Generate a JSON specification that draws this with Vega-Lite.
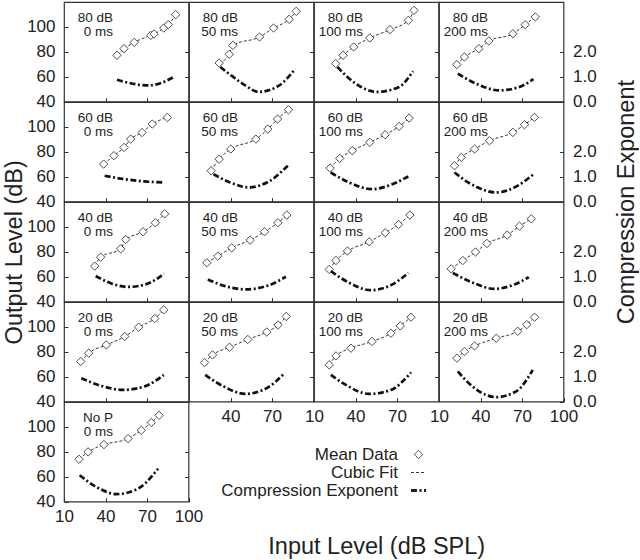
{
"$schema":"https://vega.github.io/schema/vega-lite/v6.json",
"padding":{"left":2,"top":1,"right":0,"bottom":0},
"datasets":{"labels":[
{"p":"A1","t":"80 dB\n0 ms"},{"p":"A2","t":"80 dB\n50 ms"},{"p":"A3","t":"80 dB\n100 ms"},{"p":"A4","t":"80 dB\n200 ms"},
{"p":"B1","t":"60 dB\n0 ms"},{"p":"B2","t":"60 dB\n50 ms"},{"p":"B3","t":"60 dB\n100 ms"},{"p":"B4","t":"60 dB\n200 ms"},
{"p":"C1","t":"40 dB\n0 ms"},{"p":"C2","t":"40 dB\n50 ms"},{"p":"C3","t":"40 dB\n100 ms"},{"p":"C4","t":"40 dB\n200 ms"},
{"p":"D1","t":"20 dB\n0 ms"},{"p":"D2","t":"20 dB\n50 ms"},{"p":"D3","t":"20 dB\n100 ms"},{"p":"D4","t":"20 dB\n200 ms"},
{"p":"E1","t":"No P\n0 ms"}
]},
"data":{"values":[
{"p":"A1","k":"d","x":48.3,"y":77.2},{"p":"A1","k":"d","x":53.4,"y":82.5},{"p":"A1","k":"d","x":60.8,"y":87.6},{"p":"A1","k":"d","x":72.7,"y":93.2},{"p":"A1","k":"d","x":75.1,"y":94.3},{"p":"A1","k":"d","x":82.1,"y":99.1},{"p":"A1","k":"d","x":85.4,"y":101.8},{"p":"A1","k":"d","x":90.7,"y":109.8},
{"p":"A1","k":"e","x":48.3,"y":0.88},{"p":"A1","k":"e","x":56.3,"y":0.76},{"p":"A1","k":"e","x":70.7,"y":0.65},{"p":"A1","k":"e","x":80.3,"y":0.75},{"p":"A1","k":"e","x":90.0,"y":1.01},
{"p":"A2","k":"d","x":31.8,"y":71.0},{"p":"A2","k":"d","x":39.1,"y":78.0},{"p":"A2","k":"d","x":41.7,"y":85.2},{"p":"A2","k":"d","x":61.0,"y":91.9},{"p":"A2","k":"d","x":71.1,"y":99.1},{"p":"A2","k":"d","x":82.4,"y":106.1},{"p":"A2","k":"d","x":87.5,"y":112.5},
{"p":"A2","k":"e","x":32.6,"y":1.39},{"p":"A2","k":"e","x":41.0,"y":1.03},{"p":"A2","k":"e","x":50.6,"y":0.65},{"p":"A2","k":"e","x":60.3,"y":0.39},{"p":"A2","k":"e","x":74.7,"y":0.63},{"p":"A2","k":"e","x":81.9,"y":0.99},{"p":"A2","k":"e","x":86.8,"y":1.32},
{"p":"A3","k":"d","x":25.7,"y":70.5},{"p":"A3","k":"d","x":31.0,"y":77.2},{"p":"A3","k":"d","x":38.7,"y":83.9},{"p":"A3","k":"d","x":50.3,"y":91.1},{"p":"A3","k":"d","x":64.9,"y":97.8},{"p":"A3","k":"d","x":78.2,"y":105.3},{"p":"A3","k":"d","x":82.3,"y":113.3},
{"p":"A3","k":"e","x":26.9,"y":1.39},{"p":"A3","k":"e","x":40.2,"y":0.72},{"p":"A3","k":"e","x":55.8,"y":0.39},{"p":"A3","k":"e","x":71.5,"y":0.59},{"p":"A3","k":"e","x":81.6,"y":1.22},
{"p":"A4","k":"d","x":22.9,"y":69.7},{"p":"A4","k":"d","x":28.4,"y":75.8},{"p":"A4","k":"d","x":38.8,"y":82.5},{"p":"A4","k":"d","x":46.0,"y":88.7},{"p":"A4","k":"d","x":63.4,"y":94.5},{"p":"A4","k":"d","x":72.3,"y":101.8},{"p":"A4","k":"d","x":79.6,"y":108.0},
{"p":"A4","k":"e","x":23.6,"y":1.12},{"p":"A4","k":"e","x":36.9,"y":0.72},{"p":"A4","k":"e","x":53.7,"y":0.45},{"p":"A4","k":"e","x":68.2,"y":0.59},{"p":"A4","k":"e","x":78.3,"y":0.90},
{"p":"B1","k":"d","x":38.7,"y":70.1},{"p":"B1","k":"d","x":46.1,"y":76.9},{"p":"B1","k":"d","x":53.4,"y":83.5},{"p":"B1","k":"d","x":58.2,"y":90.2},{"p":"B1","k":"d","x":66.4,"y":95.5},{"p":"B1","k":"d","x":73.8,"y":102.3},{"p":"B1","k":"d","x":84.7,"y":107.6},
{"p":"B1","k":"e","x":39.4,"y":1.04},{"p":"B1","k":"e","x":53.9,"y":0.90},{"p":"B1","k":"e","x":68.3,"y":0.81},{"p":"B1","k":"e","x":81.6,"y":0.77},
{"p":"B2","k":"d","x":26.0,"y":64.8},{"p":"B2","k":"d","x":31.8,"y":74.1},{"p":"B2","k":"d","x":40.2,"y":82.2},{"p":"B2","k":"d","x":58.3,"y":90.2},{"p":"B2","k":"d","x":67.0,"y":98.2},{"p":"B2","k":"d","x":74.0,"y":106.3},{"p":"B2","k":"d","x":81.9,"y":113.8},
{"p":"B2","k":"e","x":27.7,"y":1.10},{"p":"B2","k":"e","x":39.8,"y":0.77},{"p":"B2","k":"e","x":53.0,"y":0.57},{"p":"B2","k":"e","x":68.7,"y":0.84},{"p":"B2","k":"e","x":81.4,"y":1.44},
{"p":"B3","k":"d","x":21.6,"y":66.9},{"p":"B3","k":"d","x":28.6,"y":74.7},{"p":"B3","k":"d","x":37.7,"y":80.9},{"p":"B3","k":"d","x":50.3,"y":87.6},{"p":"B3","k":"d","x":61.4,"y":93.7},{"p":"B3","k":"d","x":71.5,"y":100.4},{"p":"B3","k":"d","x":78.8,"y":107.1},
{"p":"B3","k":"e","x":22.1,"y":1.17},{"p":"B3","k":"e","x":35.3,"y":0.77},{"p":"B3","k":"e","x":52.2,"y":0.50},{"p":"B3","k":"e","x":66.7,"y":0.70},{"p":"B3","k":"e","x":78.2,"y":1.01},
{"p":"B4","k":"d","x":21.2,"y":68.8},{"p":"B4","k":"d","x":26.1,"y":75.5},{"p":"B4","k":"d","x":35.7,"y":82.2},{"p":"B4","k":"d","x":46.5,"y":88.9},{"p":"B4","k":"d","x":63.4,"y":95.6},{"p":"B4","k":"d","x":71.8,"y":101.8},{"p":"B4","k":"d","x":79.0,"y":107.6},
{"p":"B4","k":"e","x":21.2,"y":1.17},{"p":"B4","k":"e","x":33.3,"y":0.70},{"p":"B4","k":"e","x":51.4,"y":0.37},{"p":"B4","k":"e","x":67.0,"y":0.64},{"p":"B4","k":"e","x":78.3,"y":1.10},
{"p":"C1","k":"d","x":32.2,"y":68.5},{"p":"C1","k":"d","x":36.5,"y":75.7},{"p":"C1","k":"d","x":51.0,"y":82.4},{"p":"C1","k":"d","x":54.6,"y":89.9},{"p":"C1","k":"d","x":67.1,"y":96.1},{"p":"C1","k":"d","x":76.0,"y":103.3},{"p":"C1","k":"d","x":82.8,"y":110.5},
{"p":"C1","k":"e","x":32.9,"y":1.03},{"p":"C1","k":"e","x":44.2,"y":0.73},{"p":"C1","k":"e","x":56.3,"y":0.59},{"p":"C1","k":"e","x":69.5,"y":0.70},{"p":"C1","k":"e","x":82.3,"y":1.12},
{"p":"C2","k":"d","x":22.9,"y":71.2},{"p":"C2","k":"d","x":30.8,"y":76.5},{"p":"C2","k":"d","x":40.9,"y":83.2},{"p":"C2","k":"d","x":54.2,"y":89.4},{"p":"C2","k":"d","x":64.6,"y":96.1},{"p":"C2","k":"d","x":74.2,"y":103.3},{"p":"C2","k":"d","x":80.7,"y":109.5},
{"p":"C2","k":"e","x":23.6,"y":0.89},{"p":"C2","k":"e","x":36.2,"y":0.62},{"p":"C2","k":"e","x":50.6,"y":0.49},{"p":"C2","k":"e","x":67.5,"y":0.65},{"p":"C2","k":"e","x":80.0,"y":1.00},
{"p":"C3","k":"d","x":21.0,"y":65.8},{"p":"C3","k":"d","x":25.9,"y":73.0},{"p":"C3","k":"d","x":34.2,"y":80.6},{"p":"C3","k":"d","x":49.9,"y":88.0},{"p":"C3","k":"d","x":61.5,"y":95.3},{"p":"C3","k":"d","x":71.1,"y":101.9},{"p":"C3","k":"d","x":79.3,"y":109.5},
{"p":"C3","k":"e","x":22.2,"y":1.22},{"p":"C3","k":"e","x":35.3,"y":0.76},{"p":"C3","k":"e","x":51.0,"y":0.46},{"p":"C3","k":"e","x":66.7,"y":0.69},{"p":"C3","k":"e","x":78.2,"y":1.15},
{"p":"C4","k":"d","x":18.8,"y":66.3},{"p":"C4","k":"d","x":27.2,"y":73.0},{"p":"C4","k":"d","x":36.4,"y":79.8},{"p":"C4","k":"d","x":44.6,"y":86.7},{"p":"C4","k":"d","x":59.3,"y":93.4},{"p":"C4","k":"d","x":68.2,"y":100.6},{"p":"C4","k":"d","x":76.7,"y":106.5},
{"p":"C4","k":"e","x":20.0,"y":1.15},{"p":"C4","k":"e","x":34.4,"y":0.76},{"p":"C4","k":"e","x":50.1,"y":0.51},{"p":"C4","k":"e","x":64.6,"y":0.69},{"p":"C4","k":"e","x":74.9,"y":0.98},
{"p":"D1","k":"d","x":22.1,"y":72.2},{"p":"D1","k":"d","x":27.9,"y":78.9},{"p":"D1","k":"d","x":40.6,"y":85.5},{"p":"D1","k":"d","x":53.9,"y":92.3},{"p":"D1","k":"d","x":64.0,"y":99.8},{"p":"D1","k":"d","x":75.6,"y":106.7},{"p":"D1","k":"d","x":82.1,"y":113.7},
{"p":"D1","k":"e","x":22.5,"y":0.94},{"p":"D1","k":"e","x":37.0,"y":0.63},{"p":"D1","k":"e","x":52.7,"y":0.47},{"p":"D1","k":"e","x":68.3,"y":0.61},{"p":"D1","k":"e","x":82.1,"y":1.07},
{"p":"D2","k":"d","x":21.2,"y":71.4},{"p":"D2","k":"d","x":27.0,"y":77.5},{"p":"D2","k":"d","x":39.3,"y":83.7},{"p":"D2","k":"d","x":52.5,"y":89.9},{"p":"D2","k":"d","x":66.2,"y":95.9},{"p":"D2","k":"d","x":74.4,"y":101.5},{"p":"D2","k":"d","x":80.3,"y":108.4},
{"p":"D2","k":"e","x":21.7,"y":1.07},{"p":"D2","k":"e","x":35.0,"y":0.61},{"p":"D2","k":"e","x":50.6,"y":0.31},{"p":"D2","k":"e","x":66.2,"y":0.54},{"p":"D2","k":"e","x":79.0,"y":1.14},
{"p":"D3","k":"d","x":21.0,"y":69.5},{"p":"D3","k":"d","x":25.9,"y":76.7},{"p":"D3","k":"d","x":36.7,"y":82.9},{"p":"D3","k":"d","x":51.9,"y":88.3},{"p":"D3","k":"d","x":65.6,"y":94.9},{"p":"D3","k":"d","x":72.4,"y":100.8},{"p":"D3","k":"d","x":80.1,"y":107.8},
{"p":"D3","k":"e","x":22.2,"y":1.07},{"p":"D3","k":"e","x":33.0,"y":0.67},{"p":"D3","k":"e","x":49.8,"y":0.31},{"p":"D3","k":"e","x":65.6,"y":0.47},{"p":"D3","k":"e","x":80.1,"y":1.17},
{"p":"D4","k":"d","x":22.9,"y":74.9},{"p":"D4","k":"d","x":28.4,"y":80.2},{"p":"D4","k":"d","x":35.7,"y":84.7},{"p":"D4","k":"d","x":51.4,"y":90.9},{"p":"D4","k":"d","x":66.9,"y":96.5},{"p":"D4","k":"d","x":73.4,"y":101.8},{"p":"D4","k":"d","x":79.1,"y":107.8},
{"p":"D4","k":"e","x":23.6,"y":1.21},{"p":"D4","k":"e","x":35.7,"y":0.54},{"p":"D4","k":"e","x":51.4,"y":0.18},{"p":"D4","k":"e","x":65.8,"y":0.41},{"p":"D4","k":"e","x":77.8,"y":1.27},
{"p":"E1","k":"d","x":20.8,"y":74.0},{"p":"E1","k":"d","x":27.4,"y":79.9},{"p":"E1","k":"d","x":38.9,"y":85.8},{"p":"E1","k":"d","x":56.3,"y":90.6},{"p":"E1","k":"d","x":65.9,"y":97.3},{"p":"E1","k":"d","x":73.1,"y":103.5},{"p":"E1","k":"d","x":78.7,"y":109.3},
{"p":"E1","k":"e","x":21.3,"y":1.06},{"p":"E1","k":"e","x":34.6,"y":0.55},{"p":"E1","k":"e","x":47.8,"y":0.30},{"p":"E1","k":"e","x":63.5,"y":0.52},{"p":"E1","k":"e","x":78.0,"y":1.32}
]},
"columns":4,
"spacing":0,
"bounds":"flush",
"concat":[
{"width":124.5,"height":99.6,"layer":[
{"transform":[{"filter":"datum.p=='A1' && datum.k=='d'"}],"mark":{"type":"line","interpolate":"monotone","strokeDash":[3,2],"strokeWidth":0.9,"color":"#222"},"encoding":{"x":{"field":"x","type":"quantitative","scale":{"domain":[10,100],"nice":false},"axis":{"values":[40,70],"labels":false,"title":null}},"y":{"field":"y","type":"quantitative","scale":{"domain":[40,120],"nice":false},"axis":{"values":[40,60,80,100],"title":null}}}},
{"transform":[{"filter":"datum.p=='A1' && datum.k=='d'"}],"mark":{"type":"point","shape":"diamond","size":70,"filled":true,"fill":"white","stroke":"#222","strokeWidth":0.8,"opacity":1},"encoding":{"x":{"field":"x","type":"quantitative"},"y":{"field":"y","type":"quantitative","scale":{"domain":[40,120],"nice":false},"axis":null}}},
{"transform":[{"filter":"datum.p=='A1' && datum.k=='e'"}],"mark":{"type":"line","interpolate":"monotone","strokeDash":[6,2.5,2,2.5],"strokeWidth":2.7,"color":"#111"},"encoding":{"x":{"field":"x","type":"quantitative"},"y":{"field":"y","type":"quantitative","scale":{"domain":[0,4],"nice":false},"axis":{"orient":"right","values":[1,2],"labels":false,"title":null}}}},
{"data":{"name":"labels"},"transform":[{"filter":"datum.p=='A1'"}],"mark":{"type":"text","align":"right","baseline":"top","lineBreak":"\n","fontSize":13.5,"lineHeight":14.5,"color":"#222"},"encoding":{"x":{"datum":45.4,"type":"quantitative"},"y":{"datum":113,"type":"quantitative","scale":{"domain":[40,120],"nice":false},"axis":null},"text":{"field":"t"}}}
],"resolve":{"scale":{"y":"independent"}}},
{"width":124.5,"height":99.6,"layer":[
{"transform":[{"filter":"datum.p=='A2' && datum.k=='d'"}],"mark":{"type":"line","interpolate":"monotone","strokeDash":[3,2],"strokeWidth":0.9,"color":"#222"},"encoding":{"x":{"field":"x","type":"quantitative","scale":{"domain":[10,100],"nice":false},"axis":{"values":[40,70],"labels":false,"title":null}},"y":{"field":"y","type":"quantitative","scale":{"domain":[40,120],"nice":false},"axis":null}}},
{"transform":[{"filter":"datum.p=='A2' && datum.k=='d'"}],"mark":{"type":"point","shape":"diamond","size":70,"filled":true,"fill":"white","stroke":"#222","strokeWidth":0.8,"opacity":1},"encoding":{"x":{"field":"x","type":"quantitative"},"y":{"field":"y","type":"quantitative","scale":{"domain":[40,120],"nice":false},"axis":null}}},
{"transform":[{"filter":"datum.p=='A2' && datum.k=='e'"}],"mark":{"type":"line","interpolate":"monotone","strokeDash":[6,2.5,2,2.5],"strokeWidth":2.7,"color":"#111"},"encoding":{"x":{"field":"x","type":"quantitative"},"y":{"field":"y","type":"quantitative","scale":{"domain":[0,4],"nice":false},"axis":{"orient":"right","values":[1,2],"labels":false,"title":null}}}},
{"data":{"name":"labels"},"transform":[{"filter":"datum.p=='A2'"}],"mark":{"type":"text","align":"right","baseline":"top","lineBreak":"\n","fontSize":13.5,"lineHeight":14.5,"color":"#222"},"encoding":{"x":{"datum":45.4,"type":"quantitative"},"y":{"datum":113,"type":"quantitative","scale":{"domain":[40,120],"nice":false},"axis":null},"text":{"field":"t"}}}
],"resolve":{"scale":{"y":"independent"}}},
{"width":124.5,"height":99.6,"layer":[
{"transform":[{"filter":"datum.p=='A3' && datum.k=='d'"}],"mark":{"type":"line","interpolate":"monotone","strokeDash":[3,2],"strokeWidth":0.9,"color":"#222"},"encoding":{"x":{"field":"x","type":"quantitative","scale":{"domain":[10,100],"nice":false},"axis":{"values":[40,70],"labels":false,"title":null}},"y":{"field":"y","type":"quantitative","scale":{"domain":[40,120],"nice":false},"axis":null}}},
{"transform":[{"filter":"datum.p=='A3' && datum.k=='d'"}],"mark":{"type":"point","shape":"diamond","size":70,"filled":true,"fill":"white","stroke":"#222","strokeWidth":0.8,"opacity":1},"encoding":{"x":{"field":"x","type":"quantitative"},"y":{"field":"y","type":"quantitative","scale":{"domain":[40,120],"nice":false},"axis":null}}},
{"transform":[{"filter":"datum.p=='A3' && datum.k=='e'"}],"mark":{"type":"line","interpolate":"monotone","strokeDash":[6,2.5,2,2.5],"strokeWidth":2.7,"color":"#111"},"encoding":{"x":{"field":"x","type":"quantitative"},"y":{"field":"y","type":"quantitative","scale":{"domain":[0,4],"nice":false},"axis":{"orient":"right","values":[1,2],"labels":false,"title":null}}}},
{"data":{"name":"labels"},"transform":[{"filter":"datum.p=='A3'"}],"mark":{"type":"text","align":"right","baseline":"top","lineBreak":"\n","fontSize":13.5,"lineHeight":14.5,"color":"#222"},"encoding":{"x":{"datum":45.4,"type":"quantitative"},"y":{"datum":113,"type":"quantitative","scale":{"domain":[40,120],"nice":false},"axis":null},"text":{"field":"t"}}}
],"resolve":{"scale":{"y":"independent"}}},
{"width":124.5,"height":99.6,"layer":[
{"transform":[{"filter":"datum.p=='A4' && datum.k=='d'"}],"mark":{"type":"line","interpolate":"monotone","strokeDash":[3,2],"strokeWidth":0.9,"color":"#222"},"encoding":{"x":{"field":"x","type":"quantitative","scale":{"domain":[10,100],"nice":false},"axis":{"values":[40,70],"labels":false,"title":null}},"y":{"field":"y","type":"quantitative","scale":{"domain":[40,120],"nice":false},"axis":null}}},
{"transform":[{"filter":"datum.p=='A4' && datum.k=='d'"}],"mark":{"type":"point","shape":"diamond","size":70,"filled":true,"fill":"white","stroke":"#222","strokeWidth":0.8,"opacity":1},"encoding":{"x":{"field":"x","type":"quantitative"},"y":{"field":"y","type":"quantitative","scale":{"domain":[40,120],"nice":false},"axis":null}}},
{"transform":[{"filter":"datum.p=='A4' && datum.k=='e'"}],"mark":{"type":"line","interpolate":"monotone","strokeDash":[6,2.5,2,2.5],"strokeWidth":2.7,"color":"#111"},"encoding":{"x":{"field":"x","type":"quantitative"},"y":{"field":"y","type":"quantitative","scale":{"domain":[0,4],"nice":false},"axis":{"orient":"right","values":[0,1,2],"format":".1f","title":null}}}},
{"data":{"name":"labels"},"transform":[{"filter":"datum.p=='A4'"}],"mark":{"type":"text","align":"right","baseline":"top","lineBreak":"\n","fontSize":13.5,"lineHeight":14.5,"color":"#222"},"encoding":{"x":{"datum":45.4,"type":"quantitative"},"y":{"datum":113,"type":"quantitative","scale":{"domain":[40,120],"nice":false},"axis":null},"text":{"field":"t"}}}
],"resolve":{"scale":{"y":"independent"}}},
{"width":124.5,"height":99.6,"layer":[
{"transform":[{"filter":"datum.p=='B1' && datum.k=='d'"}],"mark":{"type":"line","interpolate":"monotone","strokeDash":[3,2],"strokeWidth":0.9,"color":"#222"},"encoding":{"x":{"field":"x","type":"quantitative","scale":{"domain":[10,100],"nice":false},"axis":{"values":[40,70],"labels":false,"title":null}},"y":{"field":"y","type":"quantitative","scale":{"domain":[40,120],"nice":false},"axis":{"values":[40,60,80,100],"title":null}}}},
{"transform":[{"filter":"datum.p=='B1' && datum.k=='d'"}],"mark":{"type":"point","shape":"diamond","size":70,"filled":true,"fill":"white","stroke":"#222","strokeWidth":0.8,"opacity":1},"encoding":{"x":{"field":"x","type":"quantitative"},"y":{"field":"y","type":"quantitative","scale":{"domain":[40,120],"nice":false},"axis":null}}},
{"transform":[{"filter":"datum.p=='B1' && datum.k=='e'"}],"mark":{"type":"line","interpolate":"monotone","strokeDash":[6,2.5,2,2.5],"strokeWidth":2.7,"color":"#111"},"encoding":{"x":{"field":"x","type":"quantitative"},"y":{"field":"y","type":"quantitative","scale":{"domain":[0,4],"nice":false},"axis":{"orient":"right","values":[1,2],"labels":false,"title":null}}}},
{"data":{"name":"labels"},"transform":[{"filter":"datum.p=='B1'"}],"mark":{"type":"text","align":"right","baseline":"top","lineBreak":"\n","fontSize":13.5,"lineHeight":14.5,"color":"#222"},"encoding":{"x":{"datum":45.4,"type":"quantitative"},"y":{"datum":113,"type":"quantitative","scale":{"domain":[40,120],"nice":false},"axis":null},"text":{"field":"t"}}}
],"resolve":{"scale":{"y":"independent"}}},
{"width":124.5,"height":99.6,"layer":[
{"transform":[{"filter":"datum.p=='B2' && datum.k=='d'"}],"mark":{"type":"line","interpolate":"monotone","strokeDash":[3,2],"strokeWidth":0.9,"color":"#222"},"encoding":{"x":{"field":"x","type":"quantitative","scale":{"domain":[10,100],"nice":false},"axis":{"values":[40,70],"labels":false,"title":null}},"y":{"field":"y","type":"quantitative","scale":{"domain":[40,120],"nice":false},"axis":null}}},
{"transform":[{"filter":"datum.p=='B2' && datum.k=='d'"}],"mark":{"type":"point","shape":"diamond","size":70,"filled":true,"fill":"white","stroke":"#222","strokeWidth":0.8,"opacity":1},"encoding":{"x":{"field":"x","type":"quantitative"},"y":{"field":"y","type":"quantitative","scale":{"domain":[40,120],"nice":false},"axis":null}}},
{"transform":[{"filter":"datum.p=='B2' && datum.k=='e'"}],"mark":{"type":"line","interpolate":"monotone","strokeDash":[6,2.5,2,2.5],"strokeWidth":2.7,"color":"#111"},"encoding":{"x":{"field":"x","type":"quantitative"},"y":{"field":"y","type":"quantitative","scale":{"domain":[0,4],"nice":false},"axis":{"orient":"right","values":[1,2],"labels":false,"title":null}}}},
{"data":{"name":"labels"},"transform":[{"filter":"datum.p=='B2'"}],"mark":{"type":"text","align":"right","baseline":"top","lineBreak":"\n","fontSize":13.5,"lineHeight":14.5,"color":"#222"},"encoding":{"x":{"datum":45.4,"type":"quantitative"},"y":{"datum":113,"type":"quantitative","scale":{"domain":[40,120],"nice":false},"axis":null},"text":{"field":"t"}}}
],"resolve":{"scale":{"y":"independent"}}},
{"width":124.5,"height":99.6,"layer":[
{"transform":[{"filter":"datum.p=='B3' && datum.k=='d'"}],"mark":{"type":"line","interpolate":"monotone","strokeDash":[3,2],"strokeWidth":0.9,"color":"#222"},"encoding":{"x":{"field":"x","type":"quantitative","scale":{"domain":[10,100],"nice":false},"axis":{"values":[40,70],"labels":false,"title":null}},"y":{"field":"y","type":"quantitative","scale":{"domain":[40,120],"nice":false},"axis":null}}},
{"transform":[{"filter":"datum.p=='B3' && datum.k=='d'"}],"mark":{"type":"point","shape":"diamond","size":70,"filled":true,"fill":"white","stroke":"#222","strokeWidth":0.8,"opacity":1},"encoding":{"x":{"field":"x","type":"quantitative"},"y":{"field":"y","type":"quantitative","scale":{"domain":[40,120],"nice":false},"axis":null}}},
{"transform":[{"filter":"datum.p=='B3' && datum.k=='e'"}],"mark":{"type":"line","interpolate":"monotone","strokeDash":[6,2.5,2,2.5],"strokeWidth":2.7,"color":"#111"},"encoding":{"x":{"field":"x","type":"quantitative"},"y":{"field":"y","type":"quantitative","scale":{"domain":[0,4],"nice":false},"axis":{"orient":"right","values":[1,2],"labels":false,"title":null}}}},
{"data":{"name":"labels"},"transform":[{"filter":"datum.p=='B3'"}],"mark":{"type":"text","align":"right","baseline":"top","lineBreak":"\n","fontSize":13.5,"lineHeight":14.5,"color":"#222"},"encoding":{"x":{"datum":45.4,"type":"quantitative"},"y":{"datum":113,"type":"quantitative","scale":{"domain":[40,120],"nice":false},"axis":null},"text":{"field":"t"}}}
],"resolve":{"scale":{"y":"independent"}}},
{"width":124.5,"height":99.6,"layer":[
{"transform":[{"filter":"datum.p=='B4' && datum.k=='d'"}],"mark":{"type":"line","interpolate":"monotone","strokeDash":[3,2],"strokeWidth":0.9,"color":"#222"},"encoding":{"x":{"field":"x","type":"quantitative","scale":{"domain":[10,100],"nice":false},"axis":{"values":[40,70],"labels":false,"title":null}},"y":{"field":"y","type":"quantitative","scale":{"domain":[40,120],"nice":false},"axis":null}}},
{"transform":[{"filter":"datum.p=='B4' && datum.k=='d'"}],"mark":{"type":"point","shape":"diamond","size":70,"filled":true,"fill":"white","stroke":"#222","strokeWidth":0.8,"opacity":1},"encoding":{"x":{"field":"x","type":"quantitative"},"y":{"field":"y","type":"quantitative","scale":{"domain":[40,120],"nice":false},"axis":null}}},
{"transform":[{"filter":"datum.p=='B4' && datum.k=='e'"}],"mark":{"type":"line","interpolate":"monotone","strokeDash":[6,2.5,2,2.5],"strokeWidth":2.7,"color":"#111"},"encoding":{"x":{"field":"x","type":"quantitative"},"y":{"field":"y","type":"quantitative","scale":{"domain":[0,4],"nice":false},"axis":{"orient":"right","values":[0,1,2],"format":".1f","title":"Compression Exponent","titleY":99.6,"titleAngle":270,"titleBaseline":"top","titlePadding":18}}}},
{"data":{"name":"labels"},"transform":[{"filter":"datum.p=='B4'"}],"mark":{"type":"text","align":"right","baseline":"top","lineBreak":"\n","fontSize":13.5,"lineHeight":14.5,"color":"#222"},"encoding":{"x":{"datum":45.4,"type":"quantitative"},"y":{"datum":113,"type":"quantitative","scale":{"domain":[40,120],"nice":false},"axis":null},"text":{"field":"t"}}}
],"resolve":{"scale":{"y":"independent"}}},
{"width":124.5,"height":99.6,"layer":[
{"transform":[{"filter":"datum.p=='C1' && datum.k=='d'"}],"mark":{"type":"line","interpolate":"monotone","strokeDash":[3,2],"strokeWidth":0.9,"color":"#222"},"encoding":{"x":{"field":"x","type":"quantitative","scale":{"domain":[10,100],"nice":false},"axis":{"values":[40,70],"labels":false,"title":null}},"y":{"field":"y","type":"quantitative","scale":{"domain":[40,120],"nice":false},"axis":{"values":[40,60,80,100],"title":"Output Level (dB)","titlePadding":0}}}},
{"transform":[{"filter":"datum.p=='C1' && datum.k=='d'"}],"mark":{"type":"point","shape":"diamond","size":70,"filled":true,"fill":"white","stroke":"#222","strokeWidth":0.8,"opacity":1},"encoding":{"x":{"field":"x","type":"quantitative"},"y":{"field":"y","type":"quantitative","scale":{"domain":[40,120],"nice":false},"axis":null}}},
{"transform":[{"filter":"datum.p=='C1' && datum.k=='e'"}],"mark":{"type":"line","interpolate":"monotone","strokeDash":[6,2.5,2,2.5],"strokeWidth":2.7,"color":"#111"},"encoding":{"x":{"field":"x","type":"quantitative"},"y":{"field":"y","type":"quantitative","scale":{"domain":[0,4],"nice":false},"axis":{"orient":"right","values":[1,2],"labels":false,"title":null}}}},
{"data":{"name":"labels"},"transform":[{"filter":"datum.p=='C1'"}],"mark":{"type":"text","align":"right","baseline":"top","lineBreak":"\n","fontSize":13.5,"lineHeight":14.5,"color":"#222"},"encoding":{"x":{"datum":45.4,"type":"quantitative"},"y":{"datum":113,"type":"quantitative","scale":{"domain":[40,120],"nice":false},"axis":null},"text":{"field":"t"}}}
],"resolve":{"scale":{"y":"independent"}}},
{"width":124.5,"height":99.6,"layer":[
{"transform":[{"filter":"datum.p=='C2' && datum.k=='d'"}],"mark":{"type":"line","interpolate":"monotone","strokeDash":[3,2],"strokeWidth":0.9,"color":"#222"},"encoding":{"x":{"field":"x","type":"quantitative","scale":{"domain":[10,100],"nice":false},"axis":{"values":[40,70],"labels":false,"title":null}},"y":{"field":"y","type":"quantitative","scale":{"domain":[40,120],"nice":false},"axis":null}}},
{"transform":[{"filter":"datum.p=='C2' && datum.k=='d'"}],"mark":{"type":"point","shape":"diamond","size":70,"filled":true,"fill":"white","stroke":"#222","strokeWidth":0.8,"opacity":1},"encoding":{"x":{"field":"x","type":"quantitative"},"y":{"field":"y","type":"quantitative","scale":{"domain":[40,120],"nice":false},"axis":null}}},
{"transform":[{"filter":"datum.p=='C2' && datum.k=='e'"}],"mark":{"type":"line","interpolate":"monotone","strokeDash":[6,2.5,2,2.5],"strokeWidth":2.7,"color":"#111"},"encoding":{"x":{"field":"x","type":"quantitative"},"y":{"field":"y","type":"quantitative","scale":{"domain":[0,4],"nice":false},"axis":{"orient":"right","values":[1,2],"labels":false,"title":null}}}},
{"data":{"name":"labels"},"transform":[{"filter":"datum.p=='C2'"}],"mark":{"type":"text","align":"right","baseline":"top","lineBreak":"\n","fontSize":13.5,"lineHeight":14.5,"color":"#222"},"encoding":{"x":{"datum":45.4,"type":"quantitative"},"y":{"datum":113,"type":"quantitative","scale":{"domain":[40,120],"nice":false},"axis":null},"text":{"field":"t"}}}
],"resolve":{"scale":{"y":"independent"}}},
{"width":124.5,"height":99.6,"layer":[
{"transform":[{"filter":"datum.p=='C3' && datum.k=='d'"}],"mark":{"type":"line","interpolate":"monotone","strokeDash":[3,2],"strokeWidth":0.9,"color":"#222"},"encoding":{"x":{"field":"x","type":"quantitative","scale":{"domain":[10,100],"nice":false},"axis":{"values":[40,70],"labels":false,"title":null}},"y":{"field":"y","type":"quantitative","scale":{"domain":[40,120],"nice":false},"axis":null}}},
{"transform":[{"filter":"datum.p=='C3' && datum.k=='d'"}],"mark":{"type":"point","shape":"diamond","size":70,"filled":true,"fill":"white","stroke":"#222","strokeWidth":0.8,"opacity":1},"encoding":{"x":{"field":"x","type":"quantitative"},"y":{"field":"y","type":"quantitative","scale":{"domain":[40,120],"nice":false},"axis":null}}},
{"transform":[{"filter":"datum.p=='C3' && datum.k=='e'"}],"mark":{"type":"line","interpolate":"monotone","strokeDash":[6,2.5,2,2.5],"strokeWidth":2.7,"color":"#111"},"encoding":{"x":{"field":"x","type":"quantitative"},"y":{"field":"y","type":"quantitative","scale":{"domain":[0,4],"nice":false},"axis":{"orient":"right","values":[1,2],"labels":false,"title":null}}}},
{"data":{"name":"labels"},"transform":[{"filter":"datum.p=='C3'"}],"mark":{"type":"text","align":"right","baseline":"top","lineBreak":"\n","fontSize":13.5,"lineHeight":14.5,"color":"#222"},"encoding":{"x":{"datum":45.4,"type":"quantitative"},"y":{"datum":113,"type":"quantitative","scale":{"domain":[40,120],"nice":false},"axis":null},"text":{"field":"t"}}}
],"resolve":{"scale":{"y":"independent"}}},
{"width":124.5,"height":99.6,"layer":[
{"transform":[{"filter":"datum.p=='C4' && datum.k=='d'"}],"mark":{"type":"line","interpolate":"monotone","strokeDash":[3,2],"strokeWidth":0.9,"color":"#222"},"encoding":{"x":{"field":"x","type":"quantitative","scale":{"domain":[10,100],"nice":false},"axis":{"values":[40,70],"labels":false,"title":null}},"y":{"field":"y","type":"quantitative","scale":{"domain":[40,120],"nice":false},"axis":null}}},
{"transform":[{"filter":"datum.p=='C4' && datum.k=='d'"}],"mark":{"type":"point","shape":"diamond","size":70,"filled":true,"fill":"white","stroke":"#222","strokeWidth":0.8,"opacity":1},"encoding":{"x":{"field":"x","type":"quantitative"},"y":{"field":"y","type":"quantitative","scale":{"domain":[40,120],"nice":false},"axis":null}}},
{"transform":[{"filter":"datum.p=='C4' && datum.k=='e'"}],"mark":{"type":"line","interpolate":"monotone","strokeDash":[6,2.5,2,2.5],"strokeWidth":2.7,"color":"#111"},"encoding":{"x":{"field":"x","type":"quantitative"},"y":{"field":"y","type":"quantitative","scale":{"domain":[0,4],"nice":false},"axis":{"orient":"right","values":[0,1,2],"format":".1f","title":null}}}},
{"data":{"name":"labels"},"transform":[{"filter":"datum.p=='C4'"}],"mark":{"type":"text","align":"right","baseline":"top","lineBreak":"\n","fontSize":13.5,"lineHeight":14.5,"color":"#222"},"encoding":{"x":{"datum":45.4,"type":"quantitative"},"y":{"datum":113,"type":"quantitative","scale":{"domain":[40,120],"nice":false},"axis":null},"text":{"field":"t"}}}
],"resolve":{"scale":{"y":"independent"}}},
{"width":124.5,"height":99.6,"layer":[
{"transform":[{"filter":"datum.p=='D1' && datum.k=='d'"}],"mark":{"type":"line","interpolate":"monotone","strokeDash":[3,2],"strokeWidth":0.9,"color":"#222"},"encoding":{"x":{"field":"x","type":"quantitative","scale":{"domain":[10,100],"nice":false},"axis":{"values":[40,70],"labels":false,"title":null}},"y":{"field":"y","type":"quantitative","scale":{"domain":[40,120],"nice":false},"axis":{"values":[40,60,80,100],"title":null}}}},
{"transform":[{"filter":"datum.p=='D1' && datum.k=='d'"}],"mark":{"type":"point","shape":"diamond","size":70,"filled":true,"fill":"white","stroke":"#222","strokeWidth":0.8,"opacity":1},"encoding":{"x":{"field":"x","type":"quantitative"},"y":{"field":"y","type":"quantitative","scale":{"domain":[40,120],"nice":false},"axis":null}}},
{"transform":[{"filter":"datum.p=='D1' && datum.k=='e'"}],"mark":{"type":"line","interpolate":"monotone","strokeDash":[6,2.5,2,2.5],"strokeWidth":2.7,"color":"#111"},"encoding":{"x":{"field":"x","type":"quantitative"},"y":{"field":"y","type":"quantitative","scale":{"domain":[0,4],"nice":false},"axis":{"orient":"right","values":[1,2],"labels":false,"title":null}}}},
{"data":{"name":"labels"},"transform":[{"filter":"datum.p=='D1'"}],"mark":{"type":"text","align":"right","baseline":"top","lineBreak":"\n","fontSize":13.5,"lineHeight":14.5,"color":"#222"},"encoding":{"x":{"datum":45.4,"type":"quantitative"},"y":{"datum":113,"type":"quantitative","scale":{"domain":[40,120],"nice":false},"axis":null},"text":{"field":"t"}}}
],"resolve":{"scale":{"y":"independent"}}},
{"width":124.5,"height":99.6,"layer":[
{"transform":[{"filter":"datum.p=='D2' && datum.k=='d'"}],"mark":{"type":"line","interpolate":"monotone","strokeDash":[3,2],"strokeWidth":0.9,"color":"#222"},"encoding":{"x":{"field":"x","type":"quantitative","scale":{"domain":[10,100],"nice":false},"axis":{"values":[40,70],"title":null}},"y":{"field":"y","type":"quantitative","scale":{"domain":[40,120],"nice":false},"axis":null}}},
{"transform":[{"filter":"datum.p=='D2' && datum.k=='d'"}],"mark":{"type":"point","shape":"diamond","size":70,"filled":true,"fill":"white","stroke":"#222","strokeWidth":0.8,"opacity":1},"encoding":{"x":{"field":"x","type":"quantitative"},"y":{"field":"y","type":"quantitative","scale":{"domain":[40,120],"nice":false},"axis":null}}},
{"transform":[{"filter":"datum.p=='D2' && datum.k=='e'"}],"mark":{"type":"line","interpolate":"monotone","strokeDash":[6,2.5,2,2.5],"strokeWidth":2.7,"color":"#111"},"encoding":{"x":{"field":"x","type":"quantitative"},"y":{"field":"y","type":"quantitative","scale":{"domain":[0,4],"nice":false},"axis":{"orient":"right","values":[1,2],"labels":false,"title":null}}}},
{"data":{"name":"labels"},"transform":[{"filter":"datum.p=='D2'"}],"mark":{"type":"text","align":"right","baseline":"top","lineBreak":"\n","fontSize":13.5,"lineHeight":14.5,"color":"#222"},"encoding":{"x":{"datum":45.4,"type":"quantitative"},"y":{"datum":113,"type":"quantitative","scale":{"domain":[40,120],"nice":false},"axis":null},"text":{"field":"t"}}}
],"resolve":{"scale":{"y":"independent"}}},
{"width":124.5,"height":99.6,"layer":[
{"transform":[{"filter":"datum.p=='D3' && datum.k=='d'"}],"mark":{"type":"line","interpolate":"monotone","strokeDash":[3,2],"strokeWidth":0.9,"color":"#222"},"encoding":{"x":{"field":"x","type":"quantitative","scale":{"domain":[10,100],"nice":false},"axis":{"values":[10,40,70],"title":"Input Level (dB SPL)","titlePadding":110}},"y":{"field":"y","type":"quantitative","scale":{"domain":[40,120],"nice":false},"axis":null}}},
{"transform":[{"filter":"datum.p=='D3' && datum.k=='d'"}],"mark":{"type":"point","shape":"diamond","size":70,"filled":true,"fill":"white","stroke":"#222","strokeWidth":0.8,"opacity":1},"encoding":{"x":{"field":"x","type":"quantitative"},"y":{"field":"y","type":"quantitative","scale":{"domain":[40,120],"nice":false},"axis":null}}},
{"transform":[{"filter":"datum.p=='D3' && datum.k=='e'"}],"mark":{"type":"line","interpolate":"monotone","strokeDash":[6,2.5,2,2.5],"strokeWidth":2.7,"color":"#111"},"encoding":{"x":{"field":"x","type":"quantitative"},"y":{"field":"y","type":"quantitative","scale":{"domain":[0,4],"nice":false},"axis":{"orient":"right","values":[1,2],"labels":false,"title":null}}}},
{"data":{"name":"labels"},"transform":[{"filter":"datum.p=='D3'"}],"mark":{"type":"text","align":"right","baseline":"top","lineBreak":"\n","fontSize":13.5,"lineHeight":14.5,"color":"#222"},"encoding":{"x":{"datum":45.4,"type":"quantitative"},"y":{"datum":113,"type":"quantitative","scale":{"domain":[40,120],"nice":false},"axis":null},"text":{"field":"t"}}}
],"resolve":{"scale":{"y":"independent"}}},
{"width":124.5,"height":99.6,"layer":[
{"transform":[{"filter":"datum.p=='D4' && datum.k=='d'"}],"mark":{"type":"line","interpolate":"monotone","strokeDash":[3,2],"strokeWidth":0.9,"color":"#222"},"encoding":{"x":{"field":"x","type":"quantitative","scale":{"domain":[10,100],"nice":false},"axis":{"values":[10,40,70,100],"title":null}},"y":{"field":"y","type":"quantitative","scale":{"domain":[40,120],"nice":false},"axis":null}}},
{"transform":[{"filter":"datum.p=='D4' && datum.k=='d'"}],"mark":{"type":"point","shape":"diamond","size":70,"filled":true,"fill":"white","stroke":"#222","strokeWidth":0.8,"opacity":1},"encoding":{"x":{"field":"x","type":"quantitative"},"y":{"field":"y","type":"quantitative","scale":{"domain":[40,120],"nice":false},"axis":null}}},
{"transform":[{"filter":"datum.p=='D4' && datum.k=='e'"}],"mark":{"type":"line","interpolate":"monotone","strokeDash":[6,2.5,2,2.5],"strokeWidth":2.7,"color":"#111"},"encoding":{"x":{"field":"x","type":"quantitative"},"y":{"field":"y","type":"quantitative","scale":{"domain":[0,4],"nice":false},"axis":{"orient":"right","values":[0,1,2],"format":".1f","title":null}}}},
{"data":{"name":"labels"},"transform":[{"filter":"datum.p=='D4'"}],"mark":{"type":"text","align":"right","baseline":"top","lineBreak":"\n","fontSize":13.5,"lineHeight":14.5,"color":"#222"},"encoding":{"x":{"datum":45.4,"type":"quantitative"},"y":{"datum":113,"type":"quantitative","scale":{"domain":[40,120],"nice":false},"axis":null},"text":{"field":"t"}}}
],"resolve":{"scale":{"y":"independent"}}},
{"width":124.5,"height":99.6,"layer":[
{"transform":[{"filter":"datum.p=='E1' && datum.k=='d'"}],"mark":{"type":"line","interpolate":"monotone","strokeWidth":0.9,"color":"#222"},"encoding":{"x":{"field":"x","type":"quantitative","scale":{"domain":[10,100],"nice":false},"axis":{"values":[10,40,70,100],"title":null}},"y":{"field":"y","type":"quantitative","scale":{"domain":[40,120],"nice":false},"axis":{"values":[40,60,80,100],"title":null}},
"strokeDash":{"datum":"Cubic Fit","type":"nominal","scale":{"domain":["Mean Data","Cubic Fit","Compression Exponent"],"range":[[1,0],[3,2],[6,2.5,2,2.5]]},"legend":{"title":null,"orient":"none","legendX":346,"legendY":444,"labelFontSize":17,"labelFont":"Liberation Sans","labelColor":"#222","labelAlign":"right","labelOffset":-29,"labelLimit":400,"symbolSize":225,"symbolStrokeColor":"#222","symbolStrokeWidth":1,"rowPadding":0,"encode":{"symbols":{"update":{"shape":{"signal":"datum.value==='Mean Data'?'diamond':'stroke'"},"size":{"signal":"datum.value==='Mean Data'?70:225"},"strokeWidth":{"signal":"datum.value==='Compression Exponent'?3:0.9"},"fill":{"value":"white"},"stroke":{"value":"#222"}}}}}}}},
{"transform":[{"filter":"datum.p=='E1' && datum.k=='d'"}],"mark":{"type":"point","shape":"diamond","size":70,"filled":true,"fill":"white","stroke":"#222","strokeWidth":0.8,"opacity":1},"encoding":{"x":{"field":"x","type":"quantitative"},"y":{"field":"y","type":"quantitative","scale":{"domain":[40,120],"nice":false},"axis":null}}},
{"transform":[{"filter":"datum.p=='E1' && datum.k=='e'"}],"mark":{"type":"line","interpolate":"monotone","strokeWidth":2.7,"color":"#111"},"encoding":{"x":{"field":"x","type":"quantitative"},"y":{"field":"y","type":"quantitative","scale":{"domain":[0,4],"nice":false},"axis":{"orient":"right","values":[1,2],"labels":false,"title":null}},
"strokeDash":{"datum":"Compression Exponent","type":"nominal","scale":{"domain":["Mean Data","Cubic Fit","Compression Exponent"],"range":[[1,0],[3,2],[6,2.5,2,2.5]]},"legend":{"title":null,"orient":"none","legendX":346,"legendY":444,"labelFontSize":17,"labelFont":"Liberation Sans","labelColor":"#222","labelAlign":"right","labelOffset":-29,"labelLimit":400,"symbolSize":225,"symbolStrokeColor":"#222","symbolStrokeWidth":1,"rowPadding":0,"encode":{"symbols":{"update":{"shape":{"signal":"datum.value==='Mean Data'?'diamond':'stroke'"},"size":{"signal":"datum.value==='Mean Data'?70:225"},"strokeWidth":{"signal":"datum.value==='Compression Exponent'?3:0.9"},"fill":{"value":"white"},"stroke":{"value":"#222"}}}}}}}},
{"data":{"name":"labels"},"transform":[{"filter":"datum.p=='E1'"}],"mark":{"type":"text","align":"right","baseline":"top","lineBreak":"\n","fontSize":13.5,"lineHeight":14.5,"color":"#222"},"encoding":{"x":{"datum":45.4,"type":"quantitative"},"y":{"datum":113,"type":"quantitative","scale":{"domain":[40,120],"nice":false},"axis":null},"text":{"field":"t"}}}
],"resolve":{"scale":{"y":"independent"}}}
],
"resolve":{"scale":{"strokeDash":"shared"},"legend":{"strokeDash":"shared"}},
"config":{
"font":"Liberation Sans",
"view":{"stroke":"#333","strokeWidth":1.2},
"axis":{"domain":false,"grid":false,"tickSize":-4,"tickColor":"#333","tickWidth":1,"labelFont":"Liberation Sans","labelFontSize":17,"labelColor":"#222","labelFlush":false,"labelOverlap":false,"labelBound":false,"labelPadding":13,"titleFont":"Liberation Sans","titleFontSize":23.5,"titleFontWeight":"normal","titleColor":"#222"},
"axisX":{"labelPadding":11}
}
}
